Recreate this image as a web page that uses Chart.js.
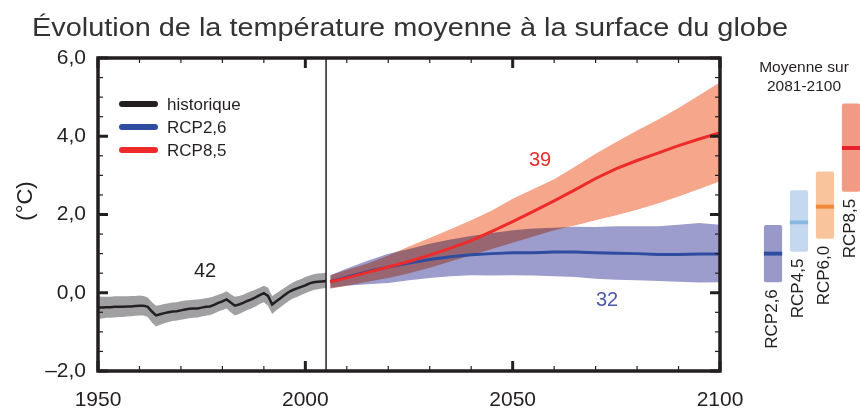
<!DOCTYPE html>
<html lang="fr">
<head>
<meta charset="utf-8">
<title>Évolution de la température moyenne à la surface du globe</title>
<script src="https://cdn.jsdelivr.net/npm/chart.js@4.4.1/dist/chart.umd.min.js"></script>
<style>
html, body { margin: 0; padding: 0; background: #fff; }
#zone { position: relative; width: 860px; height: 410px; overflow: hidden; }
#graficaPrincipal { position: absolute; left: 0; top: 0; }
#graficaMoyenne { position: absolute; left: 760px; top: 0; }
</style>
</head>
<body>
<div id="zone">
<canvas id="graficaPrincipal" width="860" height="410"></canvas>
<canvas id="graficaMoyenne" width="104" height="410"></canvas>
</div>
<script>

// ===============================
// DONNÉES
// ===============================

const anneesHist = [
    1950, 1951, 1952, 1953, 1954, 1955, 1956, 1957, 1958, 1959,
    1960, 1961, 1962, 1963, 1964, 1965, 1966, 1967, 1968, 1969,
    1970, 1971, 1972, 1973, 1974, 1975, 1976, 1977, 1978, 1979,
    1980, 1981, 1982, 1983, 1984, 1985, 1986, 1987, 1988, 1989,
    1990, 1991, 1992, 1993, 1994, 1995, 1996, 1997, 1998, 1999,
    2000, 2001, 2002, 2003, 2004, 2005
];

const histMoyenne = [
    -0.38, -0.38, -0.37, -0.37, -0.36, -0.36, -0.36, -0.35, -0.35, -0.34,
    -0.33, -0.33, -0.36, -0.48, -0.58, -0.55, -0.52, -0.50, -0.48, -0.47,
    -0.45, -0.43, -0.41, -0.40, -0.40, -0.38, -0.36, -0.35, -0.31, -0.26,
    -0.22, -0.17, -0.25, -0.33, -0.30, -0.26, -0.21, -0.17, -0.12, -0.06,
    -0.01, -0.08, -0.30, -0.22, -0.14, -0.06, 0.02, 0.07, 0.11, 0.15,
    0.19, 0.24, 0.27, 0.28, 0.29, 0.30
];

const histBas = [
    -0.67, -0.66, -0.64, -0.64, -0.63, -0.62, -0.62, -0.61, -0.60, -0.59,
    -0.58, -0.58, -0.62, -0.76, -0.86, -0.82, -0.78, -0.75, -0.72, -0.71,
    -0.69, -0.67, -0.65, -0.64, -0.63, -0.61, -0.59, -0.57, -0.53, -0.48,
    -0.44, -0.40, -0.50, -0.58, -0.54, -0.49, -0.44, -0.40, -0.35, -0.29,
    -0.24, -0.33, -0.54, -0.45, -0.37, -0.29, -0.21, -0.15, -0.11, -0.06,
    -0.01, 0.03, 0.07, 0.09, 0.11, 0.12
];

const histHaut = [
    -0.09, -0.10, -0.10, -0.10, -0.09, -0.09, -0.09, -0.09, -0.08, -0.08,
    -0.07, -0.08, -0.12, -0.24, -0.33, -0.31, -0.29, -0.27, -0.25, -0.24,
    -0.22, -0.20, -0.19, -0.18, -0.17, -0.16, -0.14, -0.12, -0.09, -0.05,
    -0.01, 0.04, -0.04, -0.10, -0.08, -0.05, 0.00, 0.04, 0.08, 0.13,
    0.18, 0.13, -0.08, -0.01, 0.06, 0.13, 0.20, 0.26, 0.31, 0.35,
    0.40, 0.44, 0.47, 0.49, 0.50, 0.51
];

const anneesProj = [
    2006, 2010, 2015, 2020, 2025, 2030, 2035, 2040, 2045, 2050,
    2055, 2060, 2065, 2070, 2075, 2080, 2085, 2090, 2095, 2100
];

const rcp26Moyenne = [
    0.28, 0.40, 0.54, 0.66, 0.76, 0.85, 0.92, 0.97, 1.00, 1.02,
    1.02, 1.04, 1.04, 1.02, 1.01, 1.00, 0.98, 0.98, 0.99, 0.99
];

const rcp26Bas = [
    0.12, 0.18, 0.22, 0.25, 0.32, 0.38, 0.42, 0.45, 0.44, 0.45,
    0.44, 0.42, 0.40, 0.36, 0.33, 0.32, 0.30, 0.28, 0.26, 0.27
];

const rcp26Haut = [
    0.45, 0.62, 0.82, 1.00, 1.12, 1.25, 1.36, 1.45, 1.53, 1.60,
    1.64, 1.66, 1.69, 1.68, 1.70, 1.70, 1.70, 1.74, 1.78, 1.74
];

const rcp85Moyenne = [
    0.28, 0.38, 0.52, 0.66, 0.80, 0.96, 1.14, 1.33, 1.57, 1.82,
    2.08, 2.35, 2.63, 2.92, 3.17, 3.38, 3.57, 3.76, 3.93, 4.09
];

const rcp85Bas = [
    0.10, 0.18, 0.28, 0.38, 0.50, 0.64, 0.80, 0.96, 1.12, 1.28,
    1.44, 1.60, 1.72, 1.85, 1.98, 2.12, 2.28, 2.46, 2.65, 2.85
];

const rcp85Haut = [
    0.45, 0.58, 0.75, 0.95, 1.18, 1.40, 1.62, 1.85, 2.10, 2.40,
    2.65, 2.90, 3.22, 3.55, 3.85, 4.15, 4.42, 4.72, 5.05, 5.38
];

// moyenne sur 2081-2100
const scenarios = ["RCP2,6", "RCP4,5", "RCP6,0", "RCP8,5"];
const moyenneFin = [1.0, 1.8, 2.2, 3.7];
const basFin = [0.27, 1.05, 1.38, 2.58];
const hautFin = [1.73, 2.62, 3.1, 4.84];

const nbModeles = ["42", "32", "39"];

// ===============================
// STYLES
// ===============================

const police = "'Liberation Sans', Arial, sans-serif";
const encre = "#231f20";

const couleurHist = "#231f20";
const couleur26 = "#2e4ca0";
const couleur85 = "#ee2b2b";

const bandeHist = "#a0a0a2";
const bande26 = "#9d9dcd";
const bande85 = "#f5a68b";

const couleursBarre = ["#9898c9", "#c4d9ef", "#f9c49c", "#f39a84"];
const couleursMoyenne = ["#2e4ca0", "#86b8e2", "#f0883c", "#e8202a"];

function points(annees, valeurs) {
    return annees.map((a, i) => ({ x: a, y: valeurs[i] }));
}

function bande(annees, valeurs, couleur, ordre, remplir) {
    return {
        data: points(annees, valeurs),
        bande: true,
        fill: remplir ? "+1" : false,
        backgroundColor: couleur,
        borderColor: "rgba(0,0,0,0)",
        borderWidth: 0,
        pointRadius: 0,
        order: ordre
    };
}

function courbe(annees, valeurs, couleur, largeur, ordre, nom) {
    return {
        label: nom,
        data: points(annees, valeurs),
        fill: false,
        borderColor: couleur,
        borderWidth: largeur,
        pointRadius: 0,
        order: ordre
    };
}

// ===============================
// PLUGINS
// ===============================

// les bandes se mélangent comme sur la figure (multiplication)
const pluginMelange = {
    id: "melange",
    beforeDatasetsDraw(chart) {
        chart.ctx.save();
        chart.ctx.globalCompositeOperation = "multiply";
    },
    beforeDatasetDraw(chart, args) {
        if (!chart.data.datasets[args.index].bande) {
            chart.ctx.globalCompositeOperation = "source-over";
        }
    },
    afterDatasetsDraw(chart) {
        chart.ctx.restore();
    }
};

function trait(ctx, x1, y1, x2, y2) {
    ctx.beginPath();
    ctx.moveTo(x1, y1);
    ctx.lineTo(x2, y2);
    ctx.stroke();
}

const pluginDecor = {
    id: "decor",
    afterDraw(chart) {
        const ctx = chart.ctx;
        const a = chart.chartArea;
        const xs = chart.scales.x;
        const ys = chart.scales.y;

        ctx.save();
        ctx.strokeStyle = encre;

        // ligne verticale 2005
        ctx.lineWidth = 1.5;
        const x2005 = xs.getPixelForValue(2005);
        trait(ctx, x2005, a.top, x2005, a.bottom);

        // graduations vers l'intérieur
        for (let an = 1950; an <= 2100; an += 10) {
            const px = xs.getPixelForValue(an);
            const majeur = an % 50 === 0;
            const l = majeur ? 10 : 5;
            ctx.lineWidth = majeur ? 3 : 1.2;
            trait(ctx, px, a.bottom, px, a.bottom - l);
            trait(ctx, px, a.top, px, a.top + l);
        }
        for (let v = -2; v <= 6; v += 0.5) {
            const py = ys.getPixelForValue(v);
            const majeur = v % 2 === 0;
            const l = majeur ? 10 : 5;
            ctx.lineWidth = majeur ? 3 : 1.2;
            trait(ctx, a.left, py, a.left + l, py);
            trait(ctx, a.right, py, a.right - l, py);
        }

        // cadre
        ctx.lineWidth = 3.5;
        ctx.strokeRect(a.left, a.top, a.right - a.left, a.bottom - a.top);

        // titre
        ctx.fillStyle = "#333";
        ctx.font = "25px " + police;
        ctx.textAlign = "left";
        ctx.textBaseline = "alphabetic";
        const titre = "Évolution de la température moyenne à la surface du globe";
        const echelle = 756 / ctx.measureText(titre).width;
        ctx.save();
        ctx.translate(32, 36);
        ctx.scale(echelle, 1);
        ctx.fillText(titre, 0, 0);
        ctx.restore();

        // titre de l'axe y
        ctx.fillStyle = encre;
        ctx.save();
        ctx.translate(26, 201);
        ctx.rotate(-Math.PI / 2);
        ctx.font = "22px " + police;
        ctx.textAlign = "center";
        ctx.textBaseline = "middle";
        ctx.fillText("(°C)", 0, 0);
        ctx.restore();

        // légende
        const legende = chart.data.datasets.filter(d => d.label);
        legende.sort((p, q) => q.order - p.order);
        ctx.font = "17px " + police;
        ctx.textAlign = "left";
        ctx.textBaseline = "middle";
        ctx.lineCap = "round";
        legende.forEach((d, i) => {
            const y = 104 + i * 23;
            ctx.strokeStyle = d.borderColor;
            ctx.lineWidth = 6;
            trait(ctx, 122, y, 155, y);
            ctx.fillStyle = encre;
            ctx.fillText(d.label, 167, y + 1);
        });

        // nombre de modèles
        ctx.font = "20px " + police;
        ctx.textAlign = "center";
        ctx.fillStyle = encre;
        ctx.fillText(nbModeles[0], 205, 271);
        ctx.fillStyle = "#4a5aa8";
        ctx.fillText(nbModeles[1], 607, 300);
        ctx.fillStyle = couleur85;
        ctx.fillText(nbModeles[2], 540, 160);

        // en-tête du panneau de droite
        ctx.fillStyle = encre;
        ctx.font = "15.5px " + police;
        ctx.fillText("Moyenne sur", 804, 68);
        ctx.fillText("2081-2100", 804, 87);

        ctx.restore();
    }
};

const pluginEtiquettes = {
    id: "etiquettes",
    afterDatasetsDraw(chart) {
        const ctx = chart.ctx;
        const meta = chart.getDatasetMeta(0);
        ctx.save();
        ctx.fillStyle = encre;
        ctx.font = "17px " + police;
        ctx.textAlign = "right";
        ctx.textBaseline = "middle";
        meta.data.forEach((barre, i) => {
            const bas = Math.max(barre.y, barre.base);
            ctx.save();
            ctx.translate(barre.x - 1, bas + 7);
            ctx.rotate(-Math.PI / 2);
            ctx.fillText(scenarios[i], 0, 0);
            ctx.restore();
        });
        ctx.restore();
    }
};

// ===============================
// GRAPHIQUE PRINCIPAL
// ===============================

new Chart(document.getElementById("graficaPrincipal"), {

    type: "line",

    data: {
        datasets: [
            bande(anneesProj, rcp26Haut, bande26, 9, true),
            bande(anneesProj, rcp26Bas, bande26, 8, false),
            bande(anneesProj, rcp85Haut, bande85, 7, true),
            bande(anneesProj, rcp85Bas, bande85, 6, false),
            bande(anneesHist, histHaut, bandeHist, 5, true),
            bande(anneesHist, histBas, bandeHist, 4, false),
            courbe(anneesProj, rcp26Moyenne, couleur26, 3, 2, "RCP2,6"),
            courbe(anneesProj, rcp85Moyenne, couleur85, 3, 1, "RCP8,5"),
            courbe(anneesHist, histMoyenne, couleurHist, 2.5, 3, "historique")
        ]
    },

    options: {
        responsive: false,
        animation: false,
        layout: {
            padding: { top: 58, right: 140, left: 0, bottom: 0 }
        },
        plugins: {
            legend: { display: false },
            tooltip: { enabled: false }
        },
        scales: {
            x: {
                type: "linear",
                min: 1950,
                max: 2100,
                afterFit: s => { s.height = 39; },
                grid: { display: false, drawTicks: false },
                border: { display: false },
                ticks: {
                    stepSize: 50,
                    padding: 17,
                    color: encre,
                    font: { family: police, size: 21 },
                    callback: v => String(v)
                }
            },
            y: {
                min: -2,
                max: 6,
                afterFit: s => { s.width = 98; },
                grid: { display: false, drawTicks: false },
                border: { display: false },
                ticks: {
                    stepSize: 2,
                    padding: 12,
                    color: encre,
                    font: { family: police, size: 21 },
                    callback: v => (v < 0 ? "–" : "") + Math.abs(v).toFixed(1).replace(".", ",")
                }
            }
        }
    },

    plugins: [pluginMelange, pluginDecor]
});

// ===============================
// MOYENNE 2081-2100
// ===============================

new Chart(document.getElementById("graficaMoyenne"), {

    type: "bar",

    data: {
        labels: scenarios,
        datasets: [
            {
                data: scenarios.map((s, i) => [basFin[i], hautFin[i]]),
                backgroundColor: couleursBarre,
                barPercentage: 0.7,
                categoryPercentage: 1,
                grouped: false,
                borderRadius: 2,
                borderSkipped: false,
                order: 1
            },
            {
                data: moyenneFin.map(m => [m - 0.05, m + 0.05]),
                backgroundColor: couleursMoyenne,
                barPercentage: 0.7,
                categoryPercentage: 1,
                grouped: false,
                order: 0
            }
        ]
    },

    options: {
        responsive: false,
        animation: false,
        layout: {
            padding: { top: 58, bottom: 39, left: 0, right: 0 }
        },
        plugins: {
            legend: { display: false },
            tooltip: { enabled: false }
        },
        scales: {
            x: { display: false },
            y: { display: false, min: -2, max: 6 }
        }
    },

    plugins: [pluginEtiquettes]
});

</script>
</body>
</html>
